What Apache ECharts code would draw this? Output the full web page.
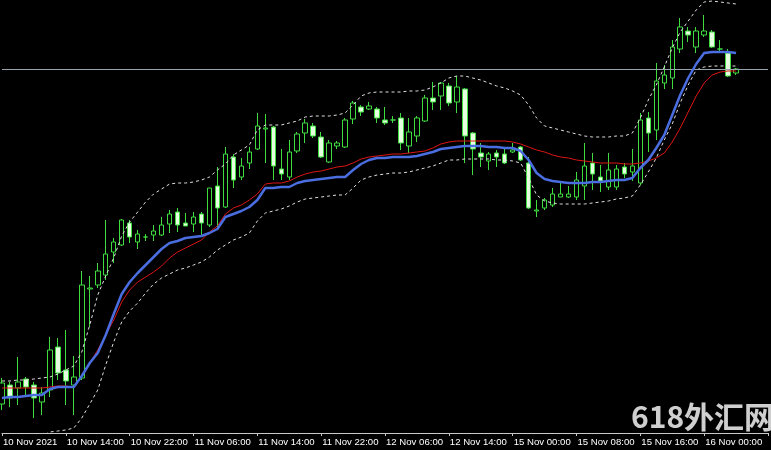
<!DOCTYPE html>
<html>
<head>
<meta charset="utf-8">
<script src="https://cdn.jsdelivr.net/npm/echarts@6/dist/echarts.min.js"></script>
<style>
html,body{margin:0;padding:0;background:#000;}
#c{width:771px;height:450px;}
</style>
</head>
<body>
<div id="c"></div>
<script>
// Hourly bars: [open, close, low, high]
const candles = [
[46,67,40,72],[65,52,43,68],[62,68,45,93],[71,63,53,73],[65,52,32,68],[48,57,35,63],[60,100,53,113],[103,77,70,112],
[80,69,45,120],[65,73,35,94],[72,165,70,179],[161,162,123,174],[165,179,162,187],[175,196,170,230],[198,208,187,212],[205,230,204,231],
[227,213,207,230],[208,216,201,220],[213,213,209,216],[215,219,209,225],[215,225,214,233],[226,236,217,240],[238,225,218,242],[227,224,224,237],
[226,233,218,238],[236,227,213,238],[225,262,223,262],[264,242,221,283],[243,296,242,303],[293,270,262,296],[273,284,270,292],[287,298,281,303],
[301,324,300,337],[321,322,287,336],[323,284,270,324],[281,276,270,301],[273,298,270,310],[299,316,297,318],[317,327,307,331],[324,314,312,327],
[313,293,292,318],[288,307,287,310],[304,307,301,309],[303,330,302,332],[331,347,326,349],[343,338,334,345],[341,344,340,348],[341,332,327,343],
[330,327,325,343],[330,330,327,334],[332,307,300,337],[304,318,297,332],[314,332,308,334],[329,352,328,355],[352,348,340,368],[354,367,340,368],
[364,347,344,367],[348,363,337,374],[361,314,287,362],[317,301,275,318],[297,293,283,307],[289,296,280,298],[297,293,283,300],[296,287,286,301],
[298,300,297,307],[303,290,289,304],[287,242,241,293],[239,240,233,250],[242,250,240,252],[245,256,243,262],[253,256,253,267],[253,256,252,264],
[253,270,250,278],[264,284,250,307],[287,276,260,297],[273,269,258,285],[263,280,260,297],[263,281,260,285],[283,276,272,287],[278,284,269,301],
[267,330,265,337],[332,317,298,338],[320,369,310,387],[367,375,361,385],[372,403,361,410],[401,423,397,432],[419,415,408,423],[403,419,397,423],
[415,419,413,435],[418,403,402,420],[401,401,397,410],[397,374,373,401],[377,381,375,382]
];
const blueMA = [52,53,53,54,55,55,61,63,63,63,74,87,97,115,136,156,168,177,185,193,201,207,209,212,213,214,217,221,233,236,239,243,
250,262,262,263,263,267,269,270,271,272,273,273,280,286,290,292,292,293,293,293,294,296,298,301,302,303,304,304,304,303,303,302,
302,299,290,277,271,269,268,267,267,267,268,268,269,270,270,272,282,290,302,315,335,355,372,386,397,398,398,398,397];
const redMA = [62,62,62,62,62,62,63,64,64,63,75,87,100,115,130,148,160,168,173,178,184,192,198,202,206,210,218,224,236,242,245,250,
256,266,267,267,269,273,276,278,279,281,283,284,287,291,293,294,295,296,296,297,298,299,302,306,308,309,309,309,309,309,309,309,
308,306,303,300,298,295,293,292,290,289,288,287,287,287,286,286,287,289,292,297,308,322,338,354,367,375,378,379,379];
const upperBand = [69,69,70,70,71,72,73,76,80,84,98,125,155,174,192,214,228,238,248,256,261,266,267,267,268,270,273,280,286,295,300,305,
320,325,325,325,327,329,333,334,334,334,335,337,345,354,357,358,358,358,358,359,359,360,363,367,372,374,374,372,370,367,364,362,
359,355,345,332,324,322,320,318,316,314,313,313,313,314,314,317,332,350,365,383,402,418,429,440,448,449,448,447,446];
const lowerBand = [-5,-2,2,5,10,14,18,19,20,22,32,46,60,85,108,128,139,147,157,166,172,176,180,182,185,188,193,200,205,210,213,217,
229,237,239,241,244,248,251,252,253,254,255,255,262,270,273,275,276,277,277,278,280,282,284,287,290,290,291,291,291,291,290,290,
289,287,272,255,249,247,246,246,246,246,247,248,249,251,252,254,265,278,292,310,326,347,365,380,383,384,384,384,384];
const bidPrice = 381;
const tickLabels = ["10 Nov 2021","10 Nov 14:00","10 Nov 22:00","11 Nov 06:00","11 Nov 14:00","11 Nov 22:00",
  "12 Nov 06:00","12 Nov 14:00","15 Nov 00:00","15 Nov 08:00","15 Nov 16:00","16 Nov 00:00"];

// hourly category list: 10 Nov 06:00 .. 12 Nov 21:00, then 15 Nov 00:00 onward (97 slots incl. chart shift)
const categories = [];
(function(){
  const pad = n => (n < 10 ? '0' : '') + n;
  let day = 10, hr = 6;
  for (let i = 0; i < 97; i++) {
    categories.push(day + ' Nov ' + pad(hr) + ':00');
    hr++;
    if (day === 12 && hr === 22) { day = 15; hr = 0; }
    else if (hr === 24) { hr = 0; day++; }
  }
})();

const chart = echarts.init(document.getElementById('c'), null, {renderer: 'canvas'});
const green = '#3fdc3f';
chart.setOption({
  backgroundColor: '#000000',
  animation: false,
  grid: {left: 1, right: 2, top: 0, bottom: 17, containLabel: false},
  xAxis: {
    type: 'category',
    data: categories,
    boundaryGap: false,
    axisLine: {show: true, lineStyle: {color: '#c8c8c8', width: 1}},
    axisTick: {show: true, length: 3, interval: (i) => i % 8 === 0, lineStyle: {color: '#c8c8c8'}},
    axisLabel: {
      show: true,
      interval: (i) => i % 8 === 0,
      formatter: (v, i) => tickLabels[i / 8] || '',
      color: '#ffffff',
      fontFamily: 'Liberation Sans',
      fontSize: 9.6,
      align: 'left',
      margin: 4,
      padding: [0, 0, 0, 1]
    },
    splitLine: {show: false}
  },
  yAxis: {type: 'value', min: 17, max: 450, show: false, splitLine: {show: false}},
  series: [
    {
      type: 'candlestick',
      data: candles,
      barWidth: 5,
      itemStyle: {color: '#000000', color0: '#e6ffe0', borderColor: green, borderColor0: green, borderWidth: 1},
      markLine: {
        silent: true, symbol: ['none', 'none'], label: {show: false},
        lineStyle: {color: '#9aa4ae', width: 1, type: 'solid'},
        data: [{yAxis: bidPrice}]
      },
      z: 2
    },
    {type: 'line', data: upperBand, symbol: 'none', smooth: false,
     lineStyle: {color: '#e0e0e0', width: 1, type: [3, 3]}, z: 3},
    {type: 'line', data: lowerBand, symbol: 'none', smooth: false,
     lineStyle: {color: '#e0e0e0', width: 1, type: [3, 3]}, z: 3},
    {type: 'line', data: redMA, symbol: 'none', smooth: false,
     lineStyle: {color: '#dd1515', width: 1}, z: 4},
    {type: 'line', data: blueMA, symbol: 'none', smooth: false,
     lineStyle: {color: '#4a6de0', width: 2.5}, z: 5}
  ],
  graphic: [{
    type: 'text', left: 631, top: 402, z: 10,
    style: {text: '618外汇网', fill: 'rgba(225,225,225,0.92)', font: 'bold 30px "Noto Sans CJK SC"'}
  }]
});
</script>
</body>
</html>
